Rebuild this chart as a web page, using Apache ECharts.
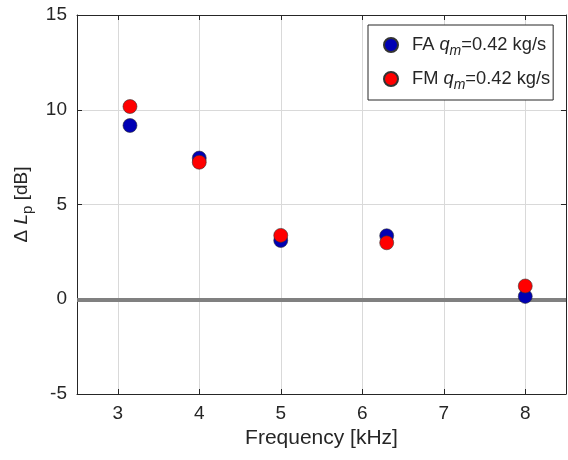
<!DOCTYPE html>
<html><head><meta charset="utf-8">
<script src="https://cdn.jsdelivr.net/npm/echarts@6/dist/echarts.min.js"></script>
<style>html,body{margin:0;padding:0;background:#fff}#c{width:568px;height:460px}</style>
</head><body><div id="c"></div>
<script>
const freq = [3.15, 4.0, 5.0, 6.3, 8.0];
const faValues = [9.17, 7.45, 3.1, 3.35, 0.15];
const fmValues = [10.17, 7.23, 3.37, 2.98, 0.7];
const xTicks = [3, 4, 5, 6, 7, 8];
const yTicks = [-5, 0, 5, 10, 15];
const seriesNames = ['FA', 'FM'];

const font = '"Liberation Sans", Arial, sans-serif';
const txt = '#262626';
const chart = echarts.init(document.getElementById('c'), null, {renderer: 'canvas'});
const legendRich = {
  g: {width: 9, lineHeight: 22},
  n: {fontFamily: font, fontSize: 18.3, color: txt, lineHeight: 22},
  q: {fontFamily: font, fontSize: 18.3, color: txt, fontStyle: 'italic', lineHeight: 22},
  s: {fontFamily: font, fontSize: 14, color: txt, fontStyle: 'italic', lineHeight: 22, padding: [12, 0, 0, 0]}
};
function pair(vals) { return freq.map((f, i) => [f, vals[i]]); }
const tickStyle = {show: true, inside: true, length: 5, lineStyle: {color: '#262626'}};
const lineStyle = {show: true, onZero: false, lineStyle: {color: '#262626', width: 1}};
chart.setOption({
  animation: false,
  backgroundColor: '#fff',
  grid: {left: 77, top: 15, right: 2, bottom: 66},
  xAxis: [{
    type: 'value', min: 2.5, max: 8.5,
    name: 'Frequency [kHz]', nameLocation: 'middle', nameGap: 34,
    nameTextStyle: {fontFamily: font, fontSize: 21, color: txt},
    axisLine: lineStyle,
    axisTick: {...tickStyle, customValues: xTicks},
    axisLabel: {fontFamily: font, fontSize: 19, color: txt, margin: 10, customValues: xTicks},
    splitLine: {show: true, lineStyle: {color: '#d9d9d9', width: 1}},
  }, {
    type: 'value', position: 'top', min: 2.5, max: 8.5,
    axisLine: lineStyle, axisTick: {...tickStyle, customValues: xTicks},
    axisLabel: {show: false, customValues: xTicks}, splitLine: {show: false}
  }],
  yAxis: [{
    type: 'value', min: -5, max: 15, interval: 5,
    name: '{d|Δ }{l|L}{p|p}{d| [dB]}', nameLocation: 'middle', nameGap: 37,
    nameTextStyle: {rich: {
      d: {fontFamily: font, fontSize: 19, color: txt, lineHeight: 22},
      l: {fontFamily: font, fontSize: 19, color: txt, fontStyle: 'italic', lineHeight: 22},
      p: {fontFamily: font, fontSize: 15, color: txt, lineHeight: 22, padding: [11, 0, 0, 0]}
    }},
    axisLine: lineStyle, axisTick: tickStyle,
    axisLabel: {fontFamily: font, fontSize: 19, color: txt, margin: 10},
    splitLine: {show: true, lineStyle: {color: '#d9d9d9', width: 1}},
  }, {
    type: 'value', position: 'right', min: -5, max: 15, interval: 5,
    axisLine: lineStyle, axisTick: tickStyle, axisLabel: {show: false}, splitLine: {show: false}
  }],
  legend: {
    orient: 'vertical', left: 368, top: 25,
    backgroundColor: '#fff', borderColor: '#262626', borderWidth: 1,
    padding: [7, 3, 8, 15], itemWidth: 14, itemHeight: 14, itemGap: 8,
    data: seriesNames,
    formatter: name => `{g|}{n|${name} }{q|q}{s|m}{n|=0.42 kg/s}`,
    textStyle: {rich: legendRich}
  },
  series: [{
    name: 'FA', type: 'scatter', data: pair(faValues), symbolSize: 14, z: 3,
    itemStyle: {color: '#0000b4', borderColor: '#333', borderWidth: 0.6, opacity: 1},
    markLine: {silent: true, symbol: 'none', z: 1, label: {show: false},
      lineStyle: {color: '#808080', width: 4, type: 'solid'}, data: [{yAxis: 0}]}
  }, {
    name: 'FM', type: 'scatter', data: pair(fmValues), symbolSize: 14, z: 4,
    itemStyle: {color: '#ff0000', borderColor: '#333', borderWidth: 0.6, opacity: 1}
  }]
});
</script></body></html>
